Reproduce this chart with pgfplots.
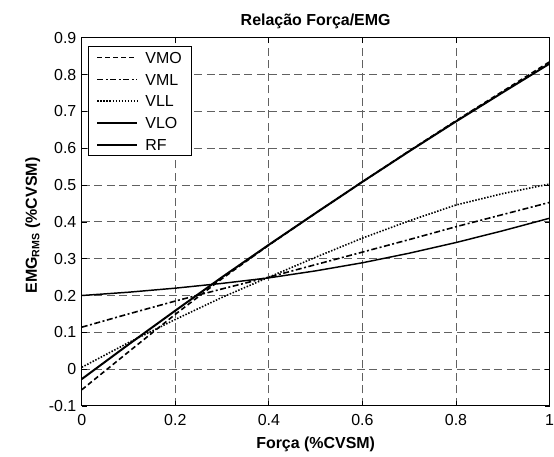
\documentclass[border=0pt]{standalone}
\usepackage{pgfplots}
\pgfplotsset{compat=1.18}
\usepackage{fontspec}
\setmainfont{Liberation Sans}
\usetikzlibrary{calc}
\begin{document}
\begin{tikzpicture}
\begin{axis}[
  scale only axis,
  width=351.75pt, height=276.75pt,
  xmin=0, xmax=1, ymin=-0.1, ymax=0.9,
  xtick={0,0.2,0.4,0.6,0.8,1},
  ytick={-0.1,0,0.1,0.2,0.3,0.4,0.5,0.6,0.7,0.8,0.9},
  tick align=inside,
  tick pos=both,
  major tick length=3.75pt,
  grid=major,
  major grid style={black!62, line width=0.7pt, dash pattern=on 6pt off 3.4pt},
  axis line style={line width=0.75pt},
  tick style={line width=0.6pt, black},
  /pgf/number format/assume math mode=true,
  /pgf/number format/fixed,
  ticklabel style={font=\fontsize{12}{14}\selectfont, inner sep=0pt},
  xticklabel style={yshift=-6pt},
  yticklabel style={xshift=-3.9pt},
  title={\bfseries Relação Força/EMG},
  title style={font=\fontsize{12}{14}\selectfont, at={(axis description cs:0.5,1)}, anchor=base, yshift=3pt},
  xlabel={\bfseries Força (\%CVSM)},
  ylabel={\bfseries EMG\textsubscript{RMS} (\%CVSM)},
  label style={font=\fontsize{12}{14}\selectfont},
  xlabel style={at={(axis description cs:0.5,0)}, anchor=base, yshift=-32pt},
  ylabel style={at={(axis description cs:-0.096,0.49)}, anchor=base},
  legend style={at={(0.0128,0.978)}, anchor=north west, draw=black, line width=0.75pt,
    font=\fontsize{12}{14}\selectfont, inner xsep=6pt, inner ysep=3pt,
    nodes={inner sep=1pt, text height=8.6pt, text depth=0pt},
    row sep=5.8pt, cells={anchor=west}},
  legend cell align=left,
  legend image code/.code={\draw[#1] (0pt,0pt) -- (30pt,0pt);},
  legend style={/tikz/every odd column/.append style={column sep=4.5pt}},
]
\addplot[black, line width=1.2pt, dash pattern=on 3.75pt off 2.25pt] coordinates {
(0,-0.056) (0.1,0.047) (0.2,0.149) (0.3,0.246) (0.4,0.337) (0.5,0.424) (0.6,0.509) (0.7,0.593) (0.8,0.675) (0.9,0.755) (1,0.835)};
\addlegendentry{VMO}
\addplot[black, line width=1.2pt, dash pattern=on 4.5pt off 1.9pt on 1.5pt off 1.9pt] coordinates {
(0,0.114) (0.1,0.150) (0.2,0.185) (0.3,0.218) (0.4,0.250) (0.5,0.284) (0.6,0.318) (0.7,0.352) (0.8,0.387) (0.9,0.420) (1,0.453)};
\addlegendentry{VML}
\addplot[black, line width=1.2pt, dash pattern=on 1.1pt off 1.2pt] coordinates {
(0,0.005) (0.1,0.072) (0.2,0.135) (0.3,0.195) (0.4,0.250) (0.5,0.304) (0.6,0.356) (0.7,0.403) (0.8,0.446) (0.9,0.477) (1,0.503)};
\addlegendentry{VLL}
\addplot[black, line width=1.1pt] coordinates {
(0,0.200) (0.1,0.209) (0.2,0.220) (0.3,0.233) (0.4,0.248) (0.5,0.267) (0.6,0.289) (0.7,0.315) (0.8,0.344) (0.9,0.376) (1,0.410)};
\addlegendentry{VLO}
\addplot[black, line width=1.5pt] coordinates {
(0,-0.027) (0.1,0.067) (0.2,0.159) (0.3,0.250) (0.4,0.338) (0.5,0.424) (0.6,0.509) (0.7,0.592) (0.8,0.673) (0.9,0.752) (1,0.830)};
\addlegendentry{RF}
\end{axis}
\useasboundingbox ($(current axis.south west)+(-61.5pt,-33.75pt)$) rectangle ($(current axis.north east)+(2.25pt,28.5pt)$);
\end{tikzpicture}
\end{document}
